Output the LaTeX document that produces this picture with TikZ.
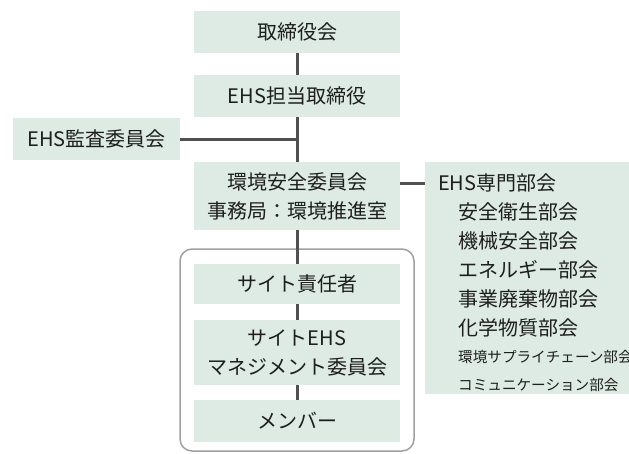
\documentclass[tikz,border=0pt]{standalone}
\usepackage{fontspec}
\setmainfont{Noto Sans CJK JP}
\usetikzlibrary{positioning, calc}
\definecolor{boxgreen}{RGB}{221,235,228}
\definecolor{linegray}{RGB}{80,80,80}
\definecolor{framegray}{RGB}{160,160,160}
\definecolor{textdark}{RGB}{30,30,30}

\begin{document}
\begin{tikzpicture}[
  x=1pt, y=-1pt,
  every node/.style={font=\fontsize{20}{29}\selectfont, text=textdark},
  orgbox/.style={
    fill=boxgreen, inner sep=0pt,
    minimum width=206pt, minimum height=42pt,
    align=center
  },
  link/.style={draw=linegray, line width=3pt},
  item/.style={anchor=west, inner sep=0pt},
  smallitem/.style={item, font=\fontsize{14.6}{18}\selectfont},
]
\useasboundingbox (0,0) rectangle (629,453);

%% ── Site frame ────────────────────────────────────────────────────────────
\draw[framegray, line width=1.5pt, rounded corners=12pt]
  (180,249) rectangle (414,451);

%% ── Main chain ────────────────────────────────────────────────────────────
\node[orgbox] (board)     at (297,32)  {取締役会};
\node[orgbox] (director)  at (297,96)  {EHS担当取締役};
\node[orgbox, minimum width=167pt] (audit) at (96.5,139) {EHS監査委員会};
\node[orgbox, minimum height=68pt] (committee) at (297,196)
  {環境安全委員会\\事務局：環境推進室};

%% ── Site level ────────────────────────────────────────────────────────────
\node[orgbox, minimum height=40pt] (sitehead) at (297,284) {サイト責任者};
\node[orgbox, minimum height=65pt] (sitecom)  at (297,352.5)
  {サイトEHS\\マネジメント委員会};
\node[orgbox] (member) at (297,421) {メンバー};

%% ── Expert subcommittees ──────────────────────────────────────────────────
\node[fill=boxgreen, inner sep=0pt, anchor=north west,
      minimum width=215pt, minimum height=232pt] (expert) at (425,162) {};
\node[item]      (experthead) at (438,183) {EHS専門部会};
\node[item]      (safety)     at (458,212) {安全衛生部会};
\node[item]      (machine)    at (458,241) {機械安全部会};
\node[item]      (energy)     at (458,270) {エネルギー部会};
\node[item]      (waste)      at (458,299) {事業廃棄物部会};
\node[item]      (chemical)   at (458,328) {化学物質部会};
\node[smallitem] (supply)     at (458,357) {環境サプライチェーン部会};
\node[smallitem] (comm)       at (458,385) {コミュニケーション部会};

%% ── Connectors ────────────────────────────────────────────────────────────
\draw[link] (board) -- (director);
\draw[link] (director) -- (committee);
\draw[link] (audit.east) -- (audit.east -| director.south);
\draw[link] (committee) -- (sitehead);
\draw[link] (sitehead) -- (sitecom);
\draw[link] (sitecom) -- (member);
\draw[link] (committee.east |- experthead) -- (expert.west |- experthead);

\end{tikzpicture}
\end{document}
